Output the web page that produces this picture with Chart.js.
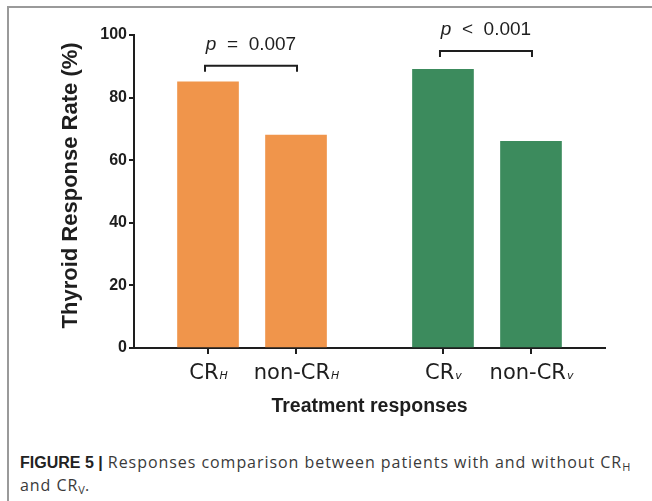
<!DOCTYPE html>
<html lang="en">
<head>
<meta charset="UTF-8">
<title>Figure 5 - Thyroid response rate</title>
<script src="https://cdn.jsdelivr.net/npm/chart.js"></script>
<style>
  html, body { margin: 0; padding: 0; background: #fff; }
  body { width: 652px; height: 501px; position: relative; overflow: hidden; }
  .frame {
    position: absolute; left: 7px; top: 6px; right: 0; bottom: 0;
    border-top: 2px solid #9a9a9a; border-left: 2px solid #9a9a9a;
  }
  #wrap { position: absolute; left: 0; top: 0; width: 652px; height: 430px; }
  .caption {
    position: absolute; left: 20px; top: 451px; width: 630px;
    font-family: "Open Sans", "Liberation Sans", sans-serif; font-size: 16px;
    letter-spacing: 0.95px; line-height: 23px; color: #3a3a3a; white-space: nowrap;
  }
  .caption b { color: #222; font-family: "Liberation Sans", Arial, sans-serif; letter-spacing: 0; }
  .caption sub { font-size: 11px; vertical-align: -3px; line-height: 0; letter-spacing: 0; }
</style>
</head>
<body>
<div class="frame"></div>
<div id="wrap"><canvas id="chart" width="652" height="430"></canvas></div>
<div class="caption"><b>FIGURE 5 |</b> Responses comparison between patients with and without CR<sub>H</sub><br>and CR<sub>V</sub>.</div>

<script>
// categories: main text + italic subscript
const labelMain = ['CR', 'non-CR', 'CR', 'non-CR'];
const labelSub = ['H', 'H', 'v', 'v'];
// bar centres on the x axis (groups separated by a gap)
const xPos = [1, 2, 3.67, 4.67];
const rates = [85, 68, 89, 66];
const barColors = ['#F0954B', '#F0954B', '#3C8B5D', '#3C8B5D'];
// significance brackets: [from bar, to bar, level, text]
const bracketFrom = [0, 2];
const bracketTo = [1, 3];
const bracketY = [90.2, 94.9];
const bracketOp = ['=', '<'];
const bracketP = ['0.007', '0.001'];
const yTicks = [0, 20, 40, 60, 80, 100];

const ink = '#1e1e1e';
const tickFont = '"DejaVu Sans", "Noto Sans", sans-serif';

const annotations = {
  id: 'annotations',
  afterDraw(chart) {
    const { ctx, scales: { x, y } } = chart;
    ctx.save();
    // x tick labels with italic subscripts
    ctx.fillStyle = ink;
    ctx.textBaseline = 'alphabetic';
    ctx.textAlign = 'left';
    xPos.forEach((v, i) => {
      const cx = x.getPixelForValue(v);
      ctx.font = '21px ' + tickFont;
      const w1 = ctx.measureText(labelMain[i]).width;
      ctx.font = 'italic 11px ' + tickFont;
      const w2 = ctx.measureText(labelSub[i]).width;
      const start = cx - (w1 + w2) / 2;
      ctx.font = '21px ' + tickFont;
      ctx.fillText(labelMain[i], start, 379);
      ctx.font = 'italic 11px ' + tickFont;
      ctx.fillText(labelSub[i], start + w1 + 1, 379);
    });
    // brackets
    ctx.strokeStyle = ink;
    ctx.lineWidth = 2;
    bracketFrom.forEach((a, i) => {
      const x1 = x.getPixelForValue(xPos[a]) - 3;
      const x2 = x.getPixelForValue(xPos[bracketTo[i]]) + 1;
      const yy = y.getPixelForValue(bracketY[i]);
      ctx.beginPath();
      ctx.moveTo(x1, yy + 6);
      ctx.lineTo(x1, yy);
      ctx.lineTo(x2, yy);
      ctx.lineTo(x2, yy + 6);
      ctx.stroke();
      // p value text
      const mid = (x1 + x2) / 2;
      const pt = 'italic 19px "Liberation Sans", Arial, sans-serif';
      const rt = '19px "Liberation Sans", Arial, sans-serif';
      const rest = '  ' + bracketOp[i] + '  ' + bracketP[i];
      ctx.font = pt;
      const wp = ctx.measureText('p').width;
      ctx.font = rt;
      const wr = ctx.measureText(rest).width;
      const s = mid - (wp + wr) / 2;
      const base = yy - 16;
      ctx.font = pt;
      ctx.fillText('p', s, base);
      ctx.font = rt;
      ctx.fillText(rest, s + wp, base);
    });
    ctx.restore();
  }
};

new Chart(document.getElementById('chart'), {
  type: 'bar',
  data: {
    datasets: [{
      data: xPos.map((v, i) => ({ x: v, y: rates[i] })),
      backgroundColor: barColors,
      barThickness: 61,
      borderWidth: 0
    }]
  },
  options: {
    responsive: false,
    animation: false,
    layout: { padding: { left: 0, right: 47, top: 35, bottom: 0 } },
    plugins: { legend: { display: false }, tooltip: { enabled: false } },
    scales: {
      x: {
        type: 'linear',
        offset: false,
        min: 0.159,
        max: 5.511,
        afterBuildTicks: s => { s.ticks = xPos.map(v => ({ value: v })); },
        afterFit: s => { s.height = 82; },
        ticks: { display: false },
        grid: { display: true, offset: false, drawOnChartArea: false, drawTicks: true, tickLength: 6, color: ink, lineWidth: 2 },
        border: { display: true, color: ink, width: 2 },
        title: {
          display: true, text: 'Treatment responses', color: ink,
          font: { family: '"Liberation Sans", Arial, sans-serif', size: 19.5, weight: 'bold' },
          padding: { top: 0, bottom: 12 }
        }
      },
      y: {
        min: 0,
        max: 100,
        afterBuildTicks: s => { s.ticks = yTicks.map(v => ({ value: v })); },
        afterFit: s => { s.width = 134; },
        ticks: {
          color: ink, padding: 2,
          font: { family: '"Liberation Sans", Arial, sans-serif', size: 16, weight: 'bold' }
        },
        grid: { display: true, drawOnChartArea: false, drawTicks: true, tickLength: 5, color: ink, lineWidth: 2 },
        border: { display: true, color: ink, width: 2 },
        title: {
          display: true, text: '  Thyroid Response Rate (%)', color: ink,
          font: { family: '"Liberation Sans", Arial, sans-serif', size: 22, weight: 'bold' },
          padding: { top: 58, bottom: 0 }
        }
      }
    }
  },
  plugins: [annotations]
});
</script>
</body>
</html>
